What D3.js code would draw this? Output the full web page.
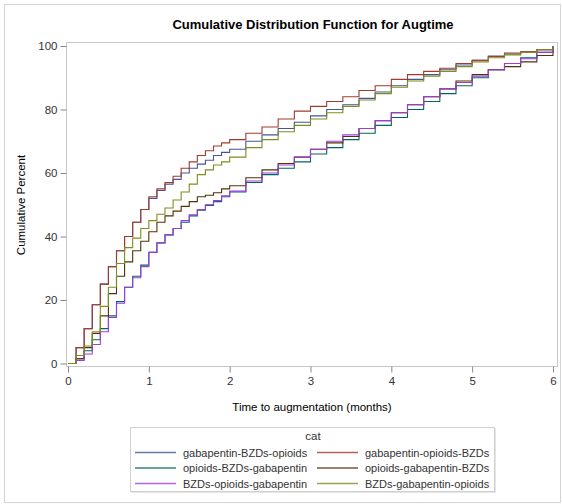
<!doctype html>
<html>
<head>
<script src="https://cdnjs.cloudflare.com/ajax/libs/d3/7.8.5/d3.min.js"></script>
<style>
body { margin: 0; background: #fff; }
svg { font-family: "Liberation Sans", Arial, sans-serif; }
.tick text { fill: #333; }
</style>
</head>
<body>
<svg width="562" height="504"></svg>
<script>
var times = [0, 0.1, 0.2, 0.3, 0.4, 0.5, 0.6, 0.7, 0.8, 0.9, 1.0, 1.1, 1.2, 1.3, 1.4, 1.5, 1.6, 1.7, 1.8, 1.9, 2.0,
  2.2, 2.4, 2.6, 2.8, 3.0, 3.2, 3.4, 3.6, 3.8, 4.0, 4.2, 4.4, 4.6, 4.8, 5.0, 5.2, 5.4, 5.6, 5.8, 6.0];

var categories = ["gabapentin-BZDs-opioids", "gabapentin-opioids-BZDs", "opioids-BZDs-gabapentin",
  "opioids-gabapentin-BZDs", "BZDs-opioids-gabapentin", "BZDs-gabapentin-opioids"];

var gabBzdOpi = [0, 5, 11, 18.5, 25, 30.5, 35.5, 40, 44.5, 48.5, 52, 54.5, 56.5, 58, 60, 61.5, 62.8, 64, 65.5, 66.5, 67.5,
  70, 72, 74, 76, 78, 80, 81.5, 83.5, 85.5, 87.5, 89.5, 91, 92.5, 94, 95.5, 96.8, 97.5, 98.2, 98.8, 100];
var gabOpiBzd = [0, 5, 11, 18.5, 25, 30.5, 35.5, 40, 44.5, 48.5, 52.5, 55, 57, 59, 61.5, 63.5, 65.5, 67, 68.5, 69.5, 70.5,
  72.5, 74.5, 77, 79.5, 81, 82.5, 84, 86, 87.5, 89.5, 91, 92, 93, 94.5, 95.5, 96.7, 97.8, 98.2, 98.8, 100];
var opiBzdGab = [0, 1.5, 4, 7.5, 11, 15, 19.5, 24, 27.5, 31, 35, 38, 40.5, 42.5, 44.5, 46.5, 48.3, 49.8, 51, 52.5, 54,
  57, 59.5, 61.5, 63.5, 66, 68, 70.5, 72.5, 75, 77.5, 80, 82.5, 85, 87.5, 90, 92.5, 94.5, 96.3, 98, 100];
var opiGabBzd = [0, 1.5, 5, 9.5, 15, 22, 27.5, 32, 35.5, 38.5, 41.5, 44.5, 46.5, 48, 49.5, 51, 52.5, 53, 53.8, 55, 56,
  58.5, 61, 63, 65, 67.5, 69.5, 71.5, 74, 76.5, 79, 81.5, 84, 86.5, 89, 91, 92.5, 93.5, 95, 97, 100];
var bzdOpiGab = [0, 1, 3, 6, 10, 14.5, 19, 24, 27, 30.5, 35, 38, 40.5, 42.5, 45, 46.8, 48.5, 50, 51.3, 52.8, 54.3,
  57.5, 60, 62.5, 65, 67.5, 70, 72, 74, 76.5, 79, 81.5, 84, 86.5, 88.5, 90.5, 92.5, 94.5, 96, 98, 100];
var bzdGabOpi = [0, 2.5, 5.5, 10, 18, 24, 31.5, 36.5, 39.5, 42.5, 45, 47, 49, 51.5, 54, 56.5, 59.5, 61, 62.5, 63.5, 65,
  68, 70.5, 73, 75, 77, 79, 81, 83, 85, 87, 89, 90.5, 92, 93.5, 95, 96.3, 97.2, 98, 98.8, 100];

var seriesValues = [gabBzdOpi, gabOpiBzd, opiBzdGab, opiGabBzd, bzdOpiGab, bzdGabOpi];
var xTicks = [0, 1, 2, 3, 4, 5, 6];
var yTicks = [0, 20, 40, 60, 80, 100];

var colors = d3.scaleOrdinal()
  .domain(categories)
  .range(["#445694", "#A23A2E", "#01665E", "#543005", "#9D3CDB", "#7F8E1F"]);

var svg = d3.select("svg");

// outer border
svg.append("rect")
  .attr("x", 4.5).attr("y", 4.5)
  .attr("width", 556).attr("height", 498)
  .attr("fill", "none").attr("stroke", "#d4d4d4");

var x = d3.scaleLinear().domain([0, 6]).range([68, 553]);
var y = d3.scaleLinear().domain([0, 100]).range([363.5, 46]);

svg.append("text")
  .attr("x", 313).attr("y", 29)
  .attr("text-anchor", "middle")
  .style("font-size", "13px").style("font-weight", "bold").style("fill", "#000")
  .text("Cumulative Distribution Function for Augtime");

// plot frame
svg.append("rect")
  .attr("x", 66.5).attr("y", 42.5)
  .attr("width", 491).attr("height", 324)
  .attr("fill", "none").attr("stroke", "#c8c8c8");

var xAxis = svg.append("g")
  .attr("transform", "translate(0,366.5)")
  .call(d3.axisBottom(x).tickValues(xTicks).tickSize(6).tickPadding(4).tickFormat(d3.format("d")));
var yAxis = svg.append("g")
  .attr("transform", "translate(66.5,0)")
  .call(d3.axisLeft(y).tickValues(yTicks).tickSize(6).tickPadding(3).tickFormat(d3.format("d")));
[xAxis, yAxis].forEach(function(a) {
  a.select(".domain").remove();
  a.selectAll(".tick line").attr("stroke", "#888");
  a.selectAll(".tick text")
    .style("font-family", "'Liberation Sans', Arial, sans-serif")
    .attr("font-size", null).style("font-size", "11.5px");
});

svg.append("text")
  .attr("x", 312).attr("y", 411)
  .attr("text-anchor", "middle")
  .style("font-size", "11.5px").style("fill", "#000")
  .text("Time to augmentation (months)");

svg.append("text")
  .attr("transform", "translate(25,205) rotate(-90)")
  .attr("text-anchor", "middle")
  .style("font-size", "11.5px").style("fill", "#000")
  .text("Cumulative Percent");

var line = d3.line()
  .x(function(d) { return x(d[0]); })
  .y(function(d) { return y(d[1]); })
  .curve(d3.curveStepAfter);

svg.append("g").selectAll("path.cdf")
  .data(categories)
  .enter()
  .append("path")
  .attr("class", "cdf")
  .attr("fill", "none")
  .attr("stroke", function(d) { return colors(d); })
  .attr("stroke-width", 1.1)
  .attr("d", function(d, i) {
    return line(times.map(function(t, j) { return [t, seriesValues[i][j]]; }));
  });

// legend
var lg = svg.append("g");
lg.append("rect")
  .attr("x", 131).attr("y", 428)
  .attr("width", 365).attr("height", 65)
  .attr("fill", "#e6e6e6");
lg.append("rect")
  .attr("x", 130.5).attr("y", 427.5)
  .attr("width", 364).attr("height", 64)
  .attr("fill", "#fff").attr("stroke", "#d0d0d0");
lg.append("text")
  .attr("x", 313).attr("y", 440)
  .attr("text-anchor", "middle")
  .style("font-size", "11.5px").style("fill", "#333")
  .text("cat");

var item = lg.selectAll("g.item")
  .data(categories)
  .enter()
  .append("g")
  .attr("class", "item")
  .attr("transform", function(d, i) {
    return "translate(" + (i % 2 === 0 ? 135 : 317) + "," + (452 + Math.floor(i / 2) * 15.5) + ")";
  });
item.append("line")
  .attr("x1", 0).attr("x2", 41)
  .attr("y1", 0.5).attr("y2", 0.5)
  .attr("stroke", function(d) { return colors(d); })
  .attr("stroke-width", 1.5)
  .attr("stroke-opacity", 0.8);
item.append("text")
  .attr("x", 48).attr("y", 4.5)
  .style("font-size", "11px").style("fill", "#333")
  .text(function(d) { return d; });
</script>
</body>
</html>
